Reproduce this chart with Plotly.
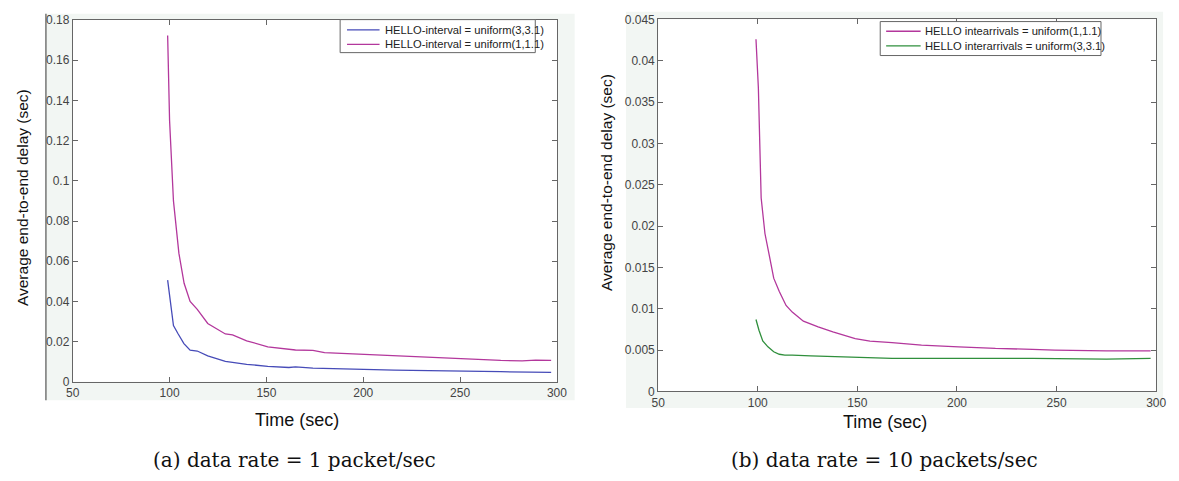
import plotly.graph_objects as go

W, H = 1179, 481

# ---- data: (a) data rate = 1 packet/sec ----
t_a_slow = [99, 102, 104.3, 107.4, 110.6, 114.3, 119.7, 128.8, 139.8, 150.7, 161.6, 165, 174, 198, 216, 234, 252.7, 271, 297]
d_a_slow = [0.0506, 0.028, 0.024, 0.019, 0.0157, 0.0153, 0.0129, 0.0101, 0.0087, 0.0077, 0.0071, 0.0074, 0.0068, 0.0061, 0.0058, 0.0055, 0.0051, 0.0050, 0.0047]
t_a_fast = [99, 100, 102, 104.8, 107.5, 110.6, 114.3, 119.7, 128.8, 132.5, 139.8, 150.7, 165, 174, 180, 198, 216, 234, 252.7, 271, 282, 289, 297]
d_a_fast = [0.1723, 0.130, 0.090, 0.064, 0.049, 0.040, 0.036, 0.029, 0.0238, 0.0233, 0.0204, 0.0174, 0.0158, 0.0156, 0.0145, 0.0137, 0.0129, 0.0124, 0.0113, 0.0106, 0.0104, 0.0108, 0.0106]

# ---- data: (b) data rate = 10 packets/sec ----
t_b_fast = [99.1, 100.3, 101.7, 103.6, 105.5, 108, 110.8, 114.2, 117.3, 122.9, 130.3, 137.7, 148.9, 156.3, 167.4, 182.2, 200.8, 219.3, 237.9, 249, 275, 297.2]
d_b_fast = [0.0426, 0.0367, 0.0234, 0.0191, 0.0168, 0.0137, 0.0121, 0.0104, 0.0096, 0.0085, 0.0078, 0.0072, 0.0064, 0.0061, 0.0059, 0.0056, 0.0054, 0.0052, 0.0051, 0.0050, 0.0049, 0.0049]
t_b_slow = [99.1, 100.6, 102.5, 105.1, 108, 110.8, 113.6, 117.3, 126.6, 137.7, 145.1, 152.6, 167.4, 200.8, 237.9, 275, 297.2]
d_b_slow = [0.0087, 0.0074, 0.0061, 0.0054, 0.0048, 0.0045, 0.0044, 0.0044, 0.0043, 0.0042, 0.0042, 0.0041, 0.0040, 0.0040, 0.0040, 0.0039, 0.0040]

names_a = ["HELLO-interval = uniform(3,3.1)", "HELLO-interval = uniform(1,1.1)"]
names_b = ["HELLO intearrivals = uniform(1,1.1)", "HELLO interarrivals = uniform(3,3.1)"]
captions = ["(a) data rate = 1 packet/sec", "(b) data rate = 10 packets/sec"]
x_title = "Time (sec)"
y_title = "Average end-to-end delay (sec)"

BLUE = "#464bb8"
MAGENTA = "#b3379c"
GREEN = "#2f8f3c"


def px(x):
    return x / W


def py(y):
    return 1 - y / H


fig = go.Figure()
fig.add_trace(go.Scatter(x=t_a_slow, y=d_a_slow, mode="lines", name=names_a[0],
                         line=dict(color=BLUE, width=1.3), xaxis="x", yaxis="y"))
fig.add_trace(go.Scatter(x=t_a_fast, y=d_a_fast, mode="lines", name=names_a[1],
                         line=dict(color=MAGENTA, width=1.3), xaxis="x", yaxis="y"))
fig.add_trace(go.Scatter(x=t_b_fast, y=d_b_fast, mode="lines", name=names_b[0],
                         line=dict(color=MAGENTA, width=1.3), xaxis="x2", yaxis="y2"))
fig.add_trace(go.Scatter(x=t_b_slow, y=d_b_slow, mode="lines", name=names_b[1],
                         line=dict(color=GREEN, width=1.3), xaxis="x2", yaxis="y2"))

tickfont = dict(family="Liberation Sans, Arial, sans-serif", size=12, color="#444")
axis_common = dict(showline=True, linecolor="#666", linewidth=1, mirror="ticks",
                   ticks="inside", ticklen=5, tickcolor="#666", showgrid=False,
                   zeroline=False, tickfont=tickfont, ticklabeloverflow="allow")

GRAY = "#f2f6f3"
shapes = [
    dict(type="rect", xref="paper", yref="paper", x0=px(39), x1=px(576), y0=py(405), y1=py(7),
         fillcolor=GRAY, line=dict(width=0), layer="below"),
    dict(type="line", xref="paper", yref="paper", x0=px(39.5), x1=px(39.5), y0=py(405), y1=py(7),
         line=dict(color="#555", width=1.2)),
    dict(type="rect", xref="paper", yref="paper", x0=px(628), x1=px(1173), y0=py(413), y1=py(5),
         fillcolor=GRAY, line=dict(width=0), layer="below"),
    dict(type="rect", xref="paper", yref="paper", x0=px(66.7), x1=px(558), y0=py(386), y1=py(13.5),
         fillcolor="white", line=dict(width=0), layer="below"),
    dict(type="rect", xref="paper", yref="paper", x0=px(660.7), x1=px(1166), y0=py(396), y1=py(12.7),
         fillcolor="white", line=dict(width=0), layer="below"),
]

titlefont_y = dict(family="Liberation Sans, Arial, sans-serif", size=15.5, color="#111")
titlefont_x = dict(family="Liberation Sans, Arial, sans-serif", size=18, color="#111")
capfont = dict(family="DejaVu Serif, Liberation Serif, serif", size=20, color="#111")
legfont = dict(family="Liberation Sans, Arial, sans-serif", size=11.2, color="#222")

annotations = [
    dict(text=y_title, x=px(16), y=py(196), xref="paper", yref="paper", textangle=-90,
         showarrow=False, font=titlefont_y, xanchor="center", yanchor="middle"),
    dict(text=y_title, x=px(609), y=py(181), xref="paper", yref="paper", textangle=-90,
         showarrow=False, font=titlefont_y, xanchor="center", yanchor="middle"),
    dict(text=x_title, x=px(294), y=py(425), xref="paper", yref="paper",
         showarrow=False, font=titlefont_x, xanchor="center", yanchor="middle"),
    dict(text=x_title, x=px(891), y=py(427), xref="paper", yref="paper",
         showarrow=False, font=titlefont_x, xanchor="center", yanchor="middle"),
    dict(text=captions[0], x=px(292), y=py(467), xref="paper", yref="paper",
         showarrow=False, font=capfont, xanchor="center", yanchor="middle"),
    dict(text=captions[1], x=px(890), y=py(467), xref="paper", yref="paper",
         showarrow=False, font=capfont, xanchor="center", yanchor="middle"),
]

# legends drawn as box + sample line + text
legends = [
    dict(box=(338, 536, 13, 47), rows=(23.5, 38.5), line=(345, 378), text_x=381,
         items=[(names_a[0], BLUE), (names_a[1], MAGENTA)]),
    dict(box=(886, 1110, 15, 50), rows=(25, 40), line=(892, 927), text_x=929,
         items=[(names_b[0], MAGENTA), (names_b[1], GREEN)]),
]
for lg in legends:
    x0, x1, y0, y1 = lg["box"]
    shapes.append(dict(type="rect", xref="paper", yref="paper", x0=px(x0), x1=px(x1),
                       y0=py(y1), y1=py(y0), fillcolor="white",
                       line=dict(color="#666", width=1)))
    for (name, col), ry in zip(lg["items"], lg["rows"]):
        shapes.append(dict(type="line", xref="paper", yref="paper", x0=px(lg["line"][0]),
                           x1=px(lg["line"][1]), y0=py(ry), y1=py(ry),
                           line=dict(color=col, width=1.3)))
        annotations.append(dict(text=name, x=px(lg["text_x"]), y=py(ry), xref="paper",
                                yref="paper", showarrow=False, font=legfont,
                                xanchor="left", yanchor="middle"))

fig.update_layout(
    width=W, height=H,
    margin=dict(l=0, r=0, t=0, b=0),
    paper_bgcolor="white",
    plot_bgcolor="rgba(0,0,0,0)",
    showlegend=False,
    xaxis=dict(domain=[px(66.7), px(558)], range=[50, 300], dtick=50, anchor="y", **axis_common),
    yaxis=dict(domain=[py(386), py(13.5)], range=[0, 0.18], dtick=0.02, anchor="x", **axis_common),
    xaxis2=dict(domain=[px(660.7), px(1166)], range=[50, 300], dtick=50, anchor="y2", **axis_common),
    yaxis2=dict(domain=[py(396), py(12.7)], range=[0, 0.045], dtick=0.005, anchor="x2", **axis_common),
    shapes=shapes,
    annotations=annotations,
)

fig.write_html("out.html", config={"displayModeBar": False},
               post_script="document.body.style.margin='0';document.body.style.overflow='hidden';")
